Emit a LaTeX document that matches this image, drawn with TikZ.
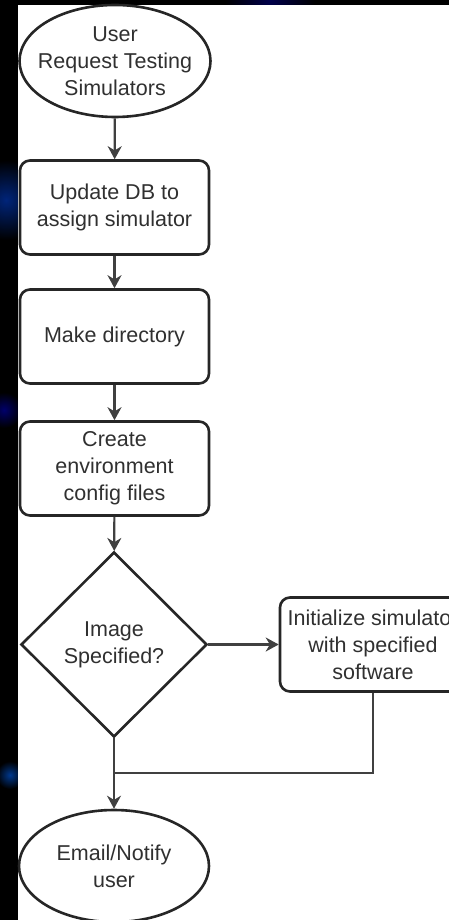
\documentclass[tikz,border=0pt]{standalone}
\usepackage{fontspec}
\setmainfont{Liberation Sans}
\usepackage{tikz}
\usetikzlibrary{shapes.geometric,arrows.meta,positioning}

\definecolor{ink}{HTML}{262626}
\definecolor{txt}{HTML}{303030}
\definecolor{wire}{HTML}{404040}

\begin{document}
\begin{tikzpicture}[x=1pt, y=-1pt,
  term/.style={ellipse, draw=ink, line width=2.6pt, fill=white, text=txt, align=center, inner sep=0pt, font=\fontsize{21.5}{27}\selectfont},
  proc/.style={rectangle, rounded corners=10pt, draw=ink, line width=2.6pt, fill=white, text=txt, align=center, minimum width=189pt, minimum height=94pt, inner sep=0pt, font=\fontsize{21.5}{27}\selectfont},
  dec/.style={diamond, draw=ink, line width=2.6pt, fill=white, text=txt, align=center, inner sep=0pt, font=\fontsize{21.5}{27}\selectfont},
  flow/.style={-{Stealth[length=13pt, width=14pt]}, draw=wire, line width=2.2pt},
  wire/.style={draw=wire, line width=2.2pt}
]
\useasboundingbox (0,0) rectangle (449,920);
\clip (0,0) rectangle (449,920);

% --- backdrop ---
\fill[black] (0,0) rectangle (449,920);
\shade[inner color=blue!70!cyan!60!black, outer color=black, opacity=0.8] (6,200) circle (40pt);
\shade[inner color=blue!60!black, outer color=black, opacity=0.7] (4,410) circle (18pt);
\shade[inner color=blue!60!cyan!70!black, outer color=black, opacity=0.8] (10,775) circle (14pt);
\shade[inner color=blue!50!black, outer color=black, opacity=0.6] (270,0) circle (45pt);
\fill[white] (18,5) rectangle (449,920);

% --- main column ---
\node[term, inner xsep=-12pt, minimum width=191pt, minimum height=112pt] (req) at (115,61) {User\\Request Testing\\Simulators};
\node[proc] (upd) at (114.5,207.5) {Update DB to\\assign simulator};
\node[proc] (mkdir) at (114.5,336.5) {Make directory};
\node[proc] (cfg) at (114.5,468.5) {Create\\environment\\config files};
\node[dec, minimum width=186pt, minimum height=185pt] (img) at (114,644.5) {Image\\Specified?};

% --- side branch ---
\node[proc, minimum width=186pt] (init) at (373,644.5) {Initialize simulator\\with specified\\software};

% --- end ---
\coordinate (join) at (114,773);
\node[term, minimum width=190pt, minimum height=112pt] (notify) at (114,866) {Email/Notify\\user};

% connectors
\draw[flow] (req) -- (upd);
\draw[flow] (upd) -- (mkdir);
\draw[flow] (mkdir) -- (cfg);
\draw[flow] (cfg) -- (img);
\draw[flow] (img.east) -- (init.west);
\draw[wire] (init.south) |- (join);
\draw[flow] (img.south) -- (notify.north);
\end{tikzpicture}
\end{document}
